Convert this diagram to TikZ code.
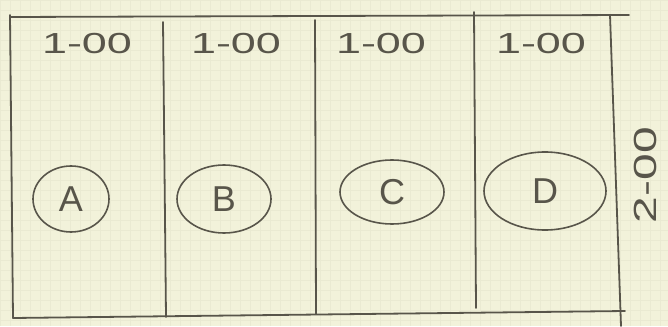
\documentclass[tikz,border=0pt]{standalone}
\usepackage{fontspec}
\setmainfont{Liberation Sans}
\usetikzlibrary{shapes.geometric}
\definecolor{paper}{HTML}{F2F2DA}
\definecolor{gridc}{HTML}{EAEAD2}
\definecolor{pencil}{HTML}{58554A}
\begin{document}
\begin{tikzpicture}[x=1pt,y=-1pt,
  frame/.style={draw=pencil,line width=1.8pt,line cap=round},
  bubble/.style={ellipse,draw=pencil,line width=1.6pt,inner sep=0pt,
    text=pencil,font=\fontsize{36}{36}\selectfont},
  price/.style={text=pencil,font=\fontsize{29}{29}\selectfont,xscale=1.55,inner sep=0pt}]
\fill[paper] (0,0) rectangle (668,326);
\useasboundingbox (0,0) rectangle (668,326);
\draw[gridc,line width=0.25pt,step=10pt] (0,0) grid (668,326);
% frame
\draw[frame] (10,17) -- (629,15);
\draw[frame] (10,15) -- (13,318);
\draw[frame] (13,318) -- (625,311);
\draw[frame] (163,22) -- (166,317);
\draw[frame] (315,20) -- (316,314);
\draw[frame] (474,12) -- (476,308);
\draw[frame] (610,15) -- (621,326);
% prices
\node[price] (p1) at (87,44) {1-00};
\node[price] (p2) at (236,44) {1-00};
\node[price] (p3) at (381,44) {1-00};
\node[price] (p4) at (541,44) {1-00};
% bubbles
\node[bubble,minimum width=76pt,minimum height=66pt] (a) at (71,199) {A};
\node[bubble,minimum width=94pt,minimum height=68pt] (b) at (224,199) {B};
\node[bubble,minimum width=104pt,minimum height=64pt] (c) at (392,192) {C};
\node[bubble,minimum width=122pt,minimum height=78pt] (d) at (545,191) {D};
% side label
\node[text=pencil,font=\fontsize{32}{32}\selectfont,rotate=90,xscale=1.5,inner sep=0pt] (side) at (645,175) {2-00};
\end{tikzpicture}
\end{document}
